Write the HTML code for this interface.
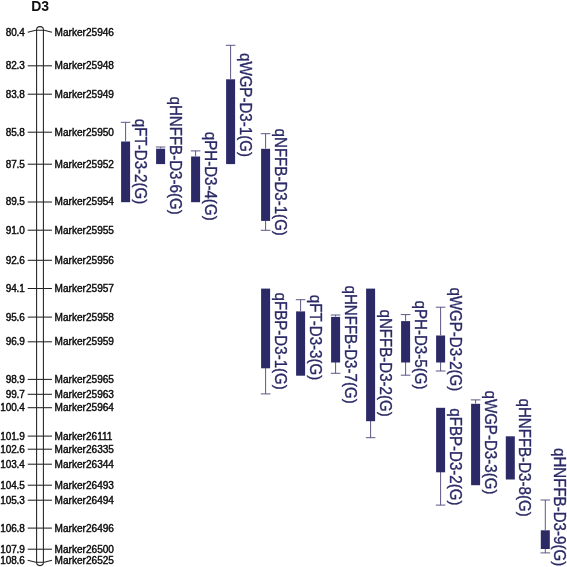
<!DOCTYPE html>
<html><head><meta charset="utf-8"><title>D3 linkage map</title>
<style>
html,body{margin:0;padding:0;background:#fff;}
body{width:567px;height:567px;overflow:hidden;}
svg{display:block;}
text{font-family:"Liberation Sans",Arial,Helvetica,sans-serif;}
.m{font-size:10.1px;fill:#0a0a0a;stroke:#0a0a0a;stroke-width:0.4;}
.q{font-size:15.1px;fill:#2b2a66;stroke:#2b2a66;stroke-width:0.33;}
.t{stroke:#222;stroke-width:1.05;fill:none;}
.w{stroke:#544e80;stroke-width:0.95;fill:none;}
.b{fill:#2b2a66;}
</style></head><body>
<svg width="567" height="567" viewBox="0 0 567 567">
<rect width="567" height="567" fill="#fff"/>
<text x="31.2" y="11.3" style="font-size:14px;font-weight:bold;fill:#111">D3</text>
<path class="t" d="M36.6 562.6 L36.6 29.6 A3.4 3.0 0 0 1 43.4 29.6 L43.4 562.6 A3.4 3.0 0 0 1 36.6 562.6"/>
<path class="t" d="M27.7 32.2 L35.8 30.3 L44.2 30.3 L52 32.2"/>
<text class="m" style="font-size:10px;letter-spacing:-0.15px" x="24.6" y="35.6" text-anchor="end">80.4</text><text class="m" x="54.5" y="35.6">Marker25946</text>
<path class="t" d="M27.7 65.8 L52 65.8"/>
<text class="m" style="font-size:10px;letter-spacing:-0.15px" x="24.6" y="69.2" text-anchor="end">82.3</text><text class="m" x="54.5" y="69.2">Marker25948</text>
<path class="t" d="M27.7 94.2 L52 94.2"/>
<text class="m" style="font-size:10px;letter-spacing:-0.15px" x="24.6" y="97.6" text-anchor="end">83.8</text><text class="m" x="54.5" y="97.6">Marker25949</text>
<path class="t" d="M27.7 132.2 L52 132.2"/>
<text class="m" style="font-size:10px;letter-spacing:-0.15px" x="24.6" y="135.6" text-anchor="end">85.8</text><text class="m" x="54.5" y="135.6">Marker25950</text>
<path class="t" d="M27.7 164.2 L52 164.2"/>
<text class="m" style="font-size:10px;letter-spacing:-0.15px" x="24.6" y="167.6" text-anchor="end">87.5</text><text class="m" x="54.5" y="167.6">Marker25952</text>
<path class="t" d="M27.7 202.0 L52 202.0"/>
<text class="m" style="font-size:10px;letter-spacing:-0.15px" x="24.6" y="205.4" text-anchor="end">89.5</text><text class="m" x="54.5" y="205.4">Marker25954</text>
<path class="t" d="M27.7 230.2 L52 230.2"/>
<text class="m" style="font-size:10px;letter-spacing:-0.15px" x="24.6" y="233.6" text-anchor="end">91.0</text><text class="m" x="54.5" y="233.6">Marker25955</text>
<path class="t" d="M27.7 260.3 L52 260.3"/>
<text class="m" style="font-size:10px;letter-spacing:-0.15px" x="24.6" y="263.7" text-anchor="end">92.6</text><text class="m" x="54.5" y="263.7">Marker25956</text>
<path class="t" d="M27.7 288.5 L52 288.5"/>
<text class="m" style="font-size:10px;letter-spacing:-0.15px" x="24.6" y="291.9" text-anchor="end">94.1</text><text class="m" x="54.5" y="291.9">Marker25957</text>
<path class="t" d="M27.7 317.1 L52 317.1"/>
<text class="m" style="font-size:10px;letter-spacing:-0.15px" x="24.6" y="320.5" text-anchor="end">95.6</text><text class="m" x="54.5" y="320.5">Marker25958</text>
<path class="t" d="M27.7 341.8 L52 341.8"/>
<text class="m" style="font-size:10px;letter-spacing:-0.15px" x="24.6" y="345.2" text-anchor="end">96.9</text><text class="m" x="54.5" y="345.2">Marker25959</text>
<path class="t" d="M27.7 379.4 L52 379.4"/>
<text class="m" style="font-size:10px;letter-spacing:-0.15px" x="24.6" y="382.8" text-anchor="end">98.9</text><text class="m" x="54.5" y="382.8">Marker25965</text>
<path class="t" d="M27.7 394.3 L52 394.3"/>
<text class="m" style="font-size:10px;letter-spacing:-0.15px" x="24.6" y="397.7" text-anchor="end">99.7</text><text class="m" x="54.5" y="397.7">Marker25963</text>
<path class="t" d="M27.7 407.7 L52 407.7"/>
<text class="m" style="font-size:10px;letter-spacing:-0.15px" x="24.6" y="411.1" text-anchor="end">100.4</text><text class="m" x="54.5" y="411.1">Marker25964</text>
<path class="t" d="M27.7 436.1 L52 436.1"/>
<text class="m" style="font-size:10px;letter-spacing:-0.15px" x="24.6" y="439.5" text-anchor="end">101.9</text><text class="m" x="54.5" y="439.5">Marker26111</text>
<path class="t" d="M27.7 449.2 L52 449.2"/>
<text class="m" style="font-size:10px;letter-spacing:-0.15px" x="24.6" y="452.6" text-anchor="end">102.6</text><text class="m" x="54.5" y="452.6">Marker26335</text>
<path class="t" d="M27.7 464.2 L52 464.2"/>
<text class="m" style="font-size:10px;letter-spacing:-0.15px" x="24.6" y="467.6" text-anchor="end">103.4</text><text class="m" x="54.5" y="467.6">Marker26344</text>
<path class="t" d="M27.7 485.2 L52 485.2"/>
<text class="m" style="font-size:10px;letter-spacing:-0.15px" x="24.6" y="488.6" text-anchor="end">104.5</text><text class="m" x="54.5" y="488.6">Marker26493</text>
<path class="t" d="M27.7 500.2 L52 500.2"/>
<text class="m" style="font-size:10px;letter-spacing:-0.15px" x="24.6" y="503.6" text-anchor="end">105.3</text><text class="m" x="54.5" y="503.6">Marker26494</text>
<path class="t" d="M27.7 528.1 L52 528.1"/>
<text class="m" style="font-size:10px;letter-spacing:-0.15px" x="24.6" y="531.5" text-anchor="end">106.8</text><text class="m" x="54.5" y="531.5">Marker26496</text>
<path class="t" d="M27.7 549.2 L52 549.2"/>
<text class="m" style="font-size:10px;letter-spacing:-0.15px" x="24.6" y="552.6" text-anchor="end">107.9</text><text class="m" x="54.5" y="552.6">Marker26500</text>
<path class="t" d="M27.7 560.3 L35.8 562.3 L44.2 562.3 L52 560.3"/>
<text class="m" style="font-size:10px;letter-spacing:-0.15px" x="24.6" y="564.4" text-anchor="end">108.6</text><text class="m" x="54.5" y="564.4">Marker26525</text>
<path class="w" d="M120.8 122.3 L130.4 122.3 M125.6 122.3 L125.6 141.2"/><rect class="b" x="121.1" y="141.5" width="9.0" height="60.7"/><text class="q" transform="translate(134.6 118.8) rotate(90) scale(1,1.05)">qFT-D3-2(G)</text>
<path class="w" d="M155.8 147.0 L165.4 147.0 M160.6 147.0 L160.6 148.4"/><rect class="b" x="156.1" y="148.7" width="9.0" height="15.4"/><text class="q" transform="translate(169.6 96.5) rotate(90) scale(1,1.05)">qHNFFB-D3-6(G)</text>
<path class="w" d="M190.8 150.9 L200.4 150.9 M195.6 150.9 L195.6 156.2"/><rect class="b" x="191.1" y="156.5" width="9.0" height="45.7"/><text class="q" transform="translate(204.6 131.8) rotate(90) scale(1,1.05)">qPH-D3-4(G)</text>
<path class="w" d="M225.8 45.3 L235.4 45.3 M230.6 45.3 L230.6 79.0"/><rect class="b" x="226.1" y="79.3" width="9.0" height="84.8"/><text class="q" transform="translate(239.6 53.0) rotate(90) scale(1,1.05)">qWGP-D3-1(G)</text>
<path class="w" d="M260.8 133.7 L270.4 133.7 M265.6 133.7 L265.6 148.5"/><path class="w" d="M260.8 230.3 L270.4 230.3 M265.6 230.3 L265.6 220.4"/><rect class="b" x="261.1" y="148.8" width="9.0" height="72.1"/><text class="q" transform="translate(274.6 128.6) rotate(90) scale(1,1.05)">qNFFB-D3-1(G)</text>
<path class="w" d="M260.8 393.9 L270.4 393.9 M265.6 393.9 L265.6 367.8"/><rect class="b" x="261.1" y="288.6" width="9.0" height="79.7"/><text class="q" transform="translate(274.6 292.6) rotate(90) scale(1,1.05)">qFBP-D3-1(G)</text>
<path class="w" d="M295.8 299.7 L305.4 299.7 M300.6 299.7 L300.6 311.1"/><rect class="b" x="296.1" y="311.4" width="9.0" height="64.3"/><text class="q" transform="translate(309.6 294.8) rotate(90) scale(1,1.05)">qFT-D3-3(G)</text>
<path class="w" d="M330.8 315.0 L340.4 315.0 M335.6 315.0 L335.6 316.6"/><path class="w" d="M330.8 373.3 L340.4 373.3 M335.6 373.3 L335.6 362.0"/><rect class="b" x="331.1" y="316.9" width="9.0" height="45.6"/><text class="q" transform="translate(344.6 285.5) rotate(90) scale(1,1.05)">qHNFFB-D3-7(G)</text>
<path class="w" d="M365.8 437.7 L375.4 437.7 M370.6 437.7 L370.6 420.7"/><rect class="b" x="366.1" y="288.6" width="9.0" height="132.6"/><text class="q" transform="translate(379.6 309.5) rotate(90) scale(1,1.05)">qNFFB-D3-2(G)</text>
<path class="w" d="M400.8 314.6 L410.4 314.6 M405.6 314.6 L405.6 320.8"/><path class="w" d="M400.8 375.2 L410.4 375.2 M405.6 375.2 L405.6 362.0"/><rect class="b" x="401.1" y="321.1" width="9.0" height="41.4"/><text class="q" transform="translate(414.6 300.6) rotate(90) scale(1,1.05)">qPH-D3-5(G)</text>
<path class="w" d="M435.8 307.2 L445.4 307.2 M440.6 307.2 L440.6 335.2"/><path class="w" d="M435.8 371.0 L445.4 371.0 M440.6 371.0 L440.6 362.0"/><rect class="b" x="436.1" y="335.5" width="9.0" height="27.0"/><text class="q" transform="translate(449.6 287.4) rotate(90) scale(1,1.05)">qWGP-D3-2(G)</text>
<path class="w" d="M435.8 505.1 L445.4 505.1 M440.6 505.1 L440.6 471.8"/><rect class="b" x="436.1" y="407.8" width="9.0" height="64.5"/><text class="q" transform="translate(449.6 408.3) rotate(90) scale(1,1.05)">qFBP-D3-2(G)</text>
<path class="w" d="M470.8 399.9 L480.4 399.9 M475.6 399.9 L475.6 403.5"/><rect class="b" x="471.1" y="403.8" width="9.0" height="81.4"/><text class="q" transform="translate(484.6 390.5) rotate(90) scale(1,1.05)">qWGP-D3-3(G)</text>
<rect class="b" x="505.8" y="436.3" width="9.0" height="43.2"/><text class="q" transform="translate(519.3 398.5) rotate(90) scale(1,1.05)">qHNFFB-D3-8(G)</text>
<path class="w" d="M540.5 500.0 L550.1 500.0 M545.3 500.0 L545.3 530.0"/><path class="w" d="M540.5 552.9 L550.1 552.9 M545.3 552.9 L545.3 548.5"/><rect class="b" x="540.8" y="530.3" width="9.0" height="18.7"/><text class="q" transform="translate(554.3 448.0) rotate(90) scale(1,1.05)">qHNFFB-D3-9(G)</text>
</svg></body></html>
